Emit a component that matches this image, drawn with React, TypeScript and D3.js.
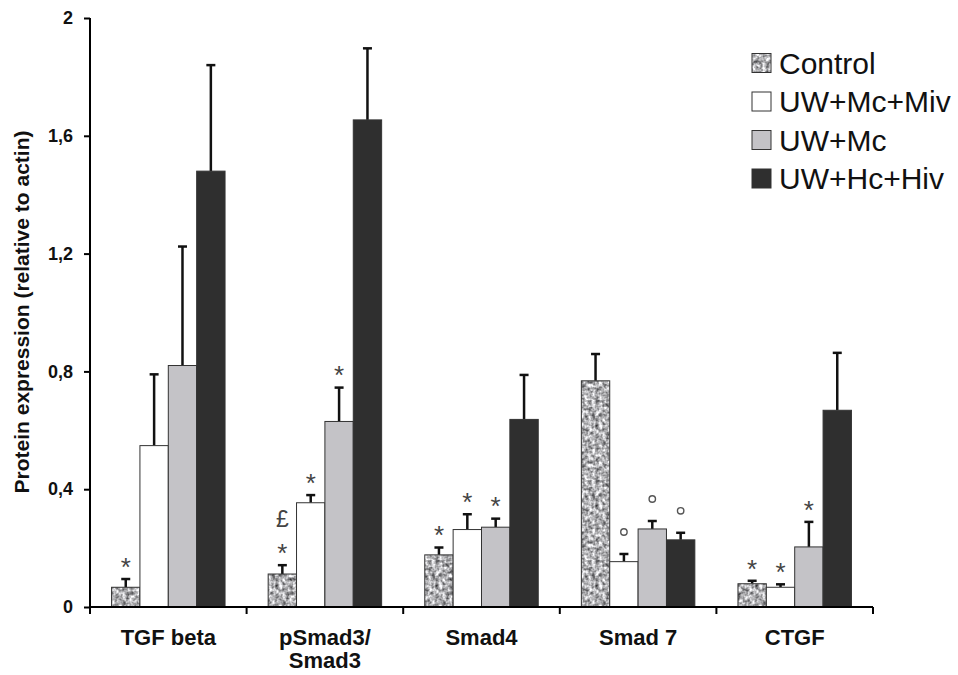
import React, { useEffect, useRef } from 'react';
import * as d3 from 'd3';

const categories = ['TGF beta', 'pSmad3/|Smad3', 'Smad4', 'Smad 7', 'CTGF'];
const seriesNames = ['Control', 'UW+Mc+Miv', 'UW+Mc', 'UW+Hc+Hiv'];

const controlValues = [0.067, 0.112, 0.177, 0.768, 0.079];
const controlErr = [0.028, 0.03, 0.025, 0.091, 0.01];
const mcMivValues = [0.548, 0.354, 0.263, 0.154, 0.067];
const mcMivErr = [0.242, 0.026, 0.052, 0.026, 0.01];
const mcValues = [0.82, 0.63, 0.271, 0.265, 0.204];
const mcErr = [0.404, 0.115, 0.029, 0.027, 0.085];
const hcHivValues = [1.48, 1.654, 0.637, 0.228, 0.668];
const hcHivErr = [0.36, 0.243, 0.151, 0.024, 0.195];

// significance marks, stacked from the error cap upward
const controlMarks = [['*'], ['*', '£'], ['*'], [], ['*']];
const mcMivMarks = [[], ['*'], ['*'], ['o'], ['*']];
const mcMarks = [[], ['*'], ['*'], ['o'], ['*']];
const hcHivMarks = [[], [], [], ['o'], []];

const yTicks = [0, 0.4, 0.8, 1.2, 1.6, 2];

const App = () => {
  const chartRef = useRef<SVGSVGElement>(null);

  useEffect(() => {
    drawChart();
  }, []);

  const drawChart = () => {
    const svg = d3.select(chartRef.current);
    svg.selectAll('*').remove();

    const left = 90;
    const right = 873;
    const top = 18;
    const bottom = 607;
    const font = 'Liberation Sans, Arial, sans-serif';

    const defs = svg.append('defs');
    const filter = defs
      .append('filter')
      .attr('id', 'mottle')
      .attr('x', 0)
      .attr('y', 0)
      .attr('width', '100%')
      .attr('height', '100%')
      .attr('color-interpolation-filters', 'sRGB');
    filter
      .append('feTurbulence')
      .attr('type', 'fractalNoise')
      .attr('baseFrequency', 0.28)
      .attr('numOctaves', 2)
      .attr('seed', 4);
    filter
      .append('feColorMatrix')
      .attr('type', 'matrix')
      .attr(
        'values',
        '1.3 0 0 0 0.04  1.3 0 0 0 0.04  1.3 0 0 0 0.05  0 0 0 0 1'
      );
    const pattern = defs
      .append('pattern')
      .attr('id', 'ctrl')
      .attr('patternUnits', 'userSpaceOnUse')
      .attr('width', 80)
      .attr('height', 80);
    pattern
      .append('rect')
      .attr('width', 80)
      .attr('height', 80)
      .attr('filter', 'url(#mottle)');

    const fills = ['url(#ctrl)', '#ffffff', '#c4c3c7', '#2f2f2f'];
    const values = [controlValues, mcMivValues, mcValues, hcHivValues];
    const errs = [controlErr, mcMivErr, mcErr, hcHivErr];
    const marks = [controlMarks, mcMivMarks, mcMarks, hcHivMarks];

    const x0 = d3
      .scaleBand()
      .domain(categories)
      .range([left, right])
      .paddingInner(0)
      .paddingOuter(0);

    const x1 = d3
      .scaleBand()
      .domain(seriesNames)
      .range([0, x0.bandwidth()])
      .paddingOuter(0.76);

    const y = d3.scaleLinear().domain([0, 2]).range([bottom, top]);

    const g = svg.append('g');

    seriesNames.forEach((name, si) => {
      categories.forEach((cat, ci) => {
        const bx = x0(cat)! + x1(name)!;
        const w = x1.bandwidth();
        const v = values[si][ci];
        const e = errs[si][ci];
        const cx = bx + w / 2;

        g.append('line')
          .attr('x1', cx)
          .attr('x2', cx)
          .attr('y1', y(v))
          .attr('y2', y(v + e))
          .attr('stroke', '#111')
          .attr('stroke-width', 2.5);
        g.append('line')
          .attr('x1', cx - 4.5)
          .attr('x2', cx + 4.5)
          .attr('y1', y(v + e))
          .attr('y2', y(v + e))
          .attr('stroke', '#111')
          .attr('stroke-width', 2.5);

        g.append('rect')
          .attr('x', bx)
          .attr('y', y(v))
          .attr('width', w)
          .attr('height', y(0) - y(v))
          .attr('fill', fills[si])
          .attr('stroke', '#333')
          .attr('stroke-width', 1);

        marks[si][ci].forEach((m, mi) => {
          const my = y(v + e) - 22 - mi * 24;
          if (m === 'o') {
            g.append('circle')
              .attr('cx', cx)
              .attr('cy', my)
              .attr('r', 3.2)
              .attr('fill', 'none')
              .attr('stroke', '#555')
              .attr('stroke-width', 1.4);
          } else {
            g.append('text')
              .attr('x', cx)
              .attr('y', my)
              .attr('dy', m === '*' ? '0.72em' : '0.35em')
              .attr('text-anchor', 'middle')
              .attr('font-family', font)
              .attr('font-size', m === '*' ? 26 : 23)
              .attr('fill', '#444')
              .text(m);
          }
        });
      });
    });

    // y axis
    const yAxis = svg
      .append('g')
      .attr('transform', `translate(${left},0)`)
      .call(
        d3
          .axisLeft(y)
          .tickValues(yTicks)
          .tickSize(6)
          .tickFormat(d => String(d).replace('.', ','))
      );
    yAxis
      .select('.domain')
      .attr('stroke', '#000')
      .attr('stroke-width', 2)
      .attr('d', `M0,${top}V${bottom}`);
    yAxis.selectAll('line').attr('stroke', '#000').attr('stroke-width', 2);
    yAxis
      .selectAll('text')
      .attr('font-family', font)
      .attr('font-weight', 'bold')
      .attr('font-size', 18)
      .attr('fill', '#111')
      .attr('x', -17);

    // x axis with boundary ticks
    const xa = svg.append('g');
    xa.append('line')
      .attr('x1', left)
      .attr('x2', right)
      .attr('y1', bottom)
      .attr('y2', bottom)
      .attr('stroke', '#000')
      .attr('stroke-width', 2);
    const bounds = categories.map(c => x0(c)!).concat([right]);
    xa.selectAll('.xt')
      .data(bounds)
      .enter()
      .append('line')
      .attr('x1', d => d)
      .attr('x2', d => d)
      .attr('y1', bottom)
      .attr('y2', bottom + 7)
      .attr('stroke', '#000')
      .attr('stroke-width', 2);

    categories.forEach(cat => {
      const lines = cat.split('|');
      const cx = x0(cat)! + x0.bandwidth() / 2;
      const t = xa
        .append('text')
        .attr('x', cx)
        .attr('y', 645)
        .attr('text-anchor', 'middle')
        .attr('font-family', font)
        .attr('font-weight', 'bold')
        .attr('font-size', 22)
        .attr('fill', '#111');
      lines.forEach((l, i) => {
        t.append('tspan')
          .attr('x', cx)
          .attr('dy', i === 0 ? 0 : 23)
          .text(l);
      });
    });

    svg
      .append('text')
      .attr('transform', `translate(29,${312}) rotate(-90)`)
      .attr('text-anchor', 'middle')
      .attr('font-family', font)
      .attr('font-weight', 'bold')
      .attr('font-size', 21)
      .attr('fill', '#111')
      .text('Protein expression (relative to actin)');

    // legend
    const legend = svg.append('g').attr('transform', 'translate(752,0)');
    seriesNames.forEach((name, i) => {
      const cy = 63 + i * 38.5;
      legend
        .append('rect')
        .attr('x', 0)
        .attr('y', cy - 9.5)
        .attr('width', 19)
        .attr('height', 19)
        .attr('fill', fills[i])
        .attr('stroke', '#333')
        .attr('stroke-width', 1);
      legend
        .append('text')
        .attr('x', 27)
        .attr('y', cy)
        .attr('dy', '0.36em')
        .attr('font-family', font)
        .attr('font-size', 30)
        .attr('fill', '#111')
        .text(name);
    });
  };

  return (
    <svg
      ref={chartRef}
      width={958}
      height={675}
      style={{ position: 'absolute', left: 0, top: 0, background: '#fff' }}
    ></svg>
  );
};

export default App;
